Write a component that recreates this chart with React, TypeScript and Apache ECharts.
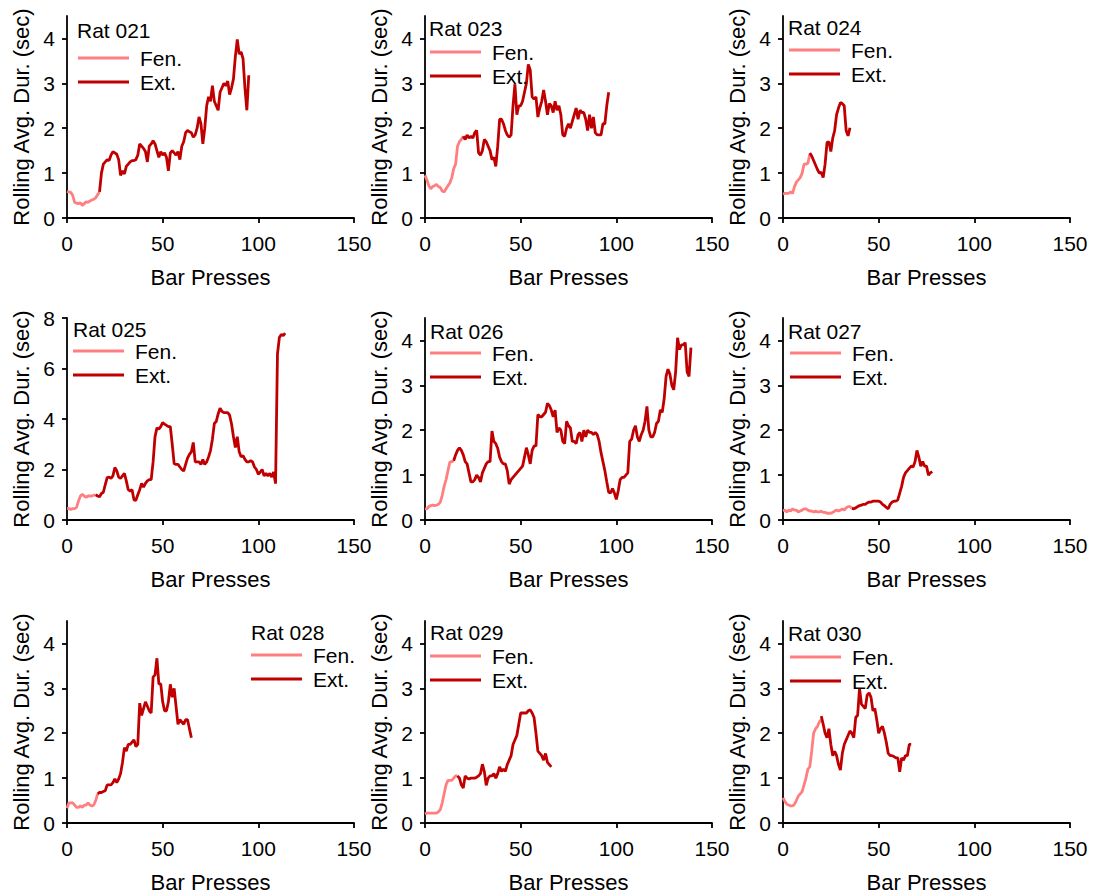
import React, { useEffect, useRef } from 'react';
import * as echarts from 'echarts';

const ratNames = ['Rat 021', 'Rat 023', 'Rat 024', 'Rat 025', 'Rat 026', 'Rat 027', 'Rat 028', 'Rat 029', 'Rat 030'];
const legendNames = ['Fen.', 'Ext.'];
const xTicks = [0, 50, 100, 150];
const xMax = 150;
const yTicksSmall = [0, 1, 2, 3, 4];
const yTicksLarge = [0, 2, 4, 6, 8];
const yMaxes = [4.5, 4.5, 4.5, 8, 4.5, 4.5, 4.5, 4.5, 4.5];

// Fen. values start at bar press 0; Ext. values start at extStarts[i]
const fen021 = [0.59, 0.58, 0.57, 0.5, 0.35, 0.33, 0.32, 0.34, 0.28, 0.32, 0.36, 0.35, 0.38, 0.4, 0.42, 0.45, 0.52, 0.58];
const ext021 = [0.58, 1.0, 1.2, 1.25, 1.3, 1.28, 1.4, 1.48, 1.45, 1.42, 1.3, 0.95, 1.05, 0.98, 1.15, 1.2, 1.25, 1.28, 1.28, 1.3, 1.4, 1.65, 1.6, 1.55, 1.48, 1.25, 1.6, 1.65, 1.72, 1.65, 1.5, 1.35, 1.48, 1.4, 1.45, 1.35, 1.05, 1.45, 1.5, 1.45, 1.4, 1.48, 1.3, 1.6, 1.7, 1.9, 1.95, 1.92, 1.9, 1.8, 1.85, 2.0, 2.25, 2.1, 1.65, 2.0, 2.5, 2.7, 2.6, 2.95, 2.6, 2.5, 2.4, 2.8, 2.9, 3.0, 2.95, 3.05, 2.75, 2.9, 3.1, 3.6, 3.98, 3.65, 3.7, 3.55, 2.9, 2.4, 3.18];

const fen023 = [0.95, 0.85, 0.72, 0.65, 0.7, 0.72, 0.75, 0.7, 0.68, 0.6, 0.58, 0.65, 0.72, 0.78, 0.9, 1.1, 1.2, 1.6, 1.7, 1.75, 1.82];
const ext023 = [1.82, 1.75, 1.85, 1.78, 1.82, 1.78, 1.9, 1.95, 1.45, 1.4, 1.5, 1.75, 1.7, 1.6, 1.5, 1.3, 1.35, 1.15, 1.6, 2.2, 2.2, 2.1, 1.95, 1.85, 1.8, 1.85, 2.5, 2.98, 2.3, 2.5, 2.5, 2.6, 2.8, 3.0, 3.42, 3.3, 2.7, 2.65, 2.7, 2.25, 2.45, 2.6, 2.85, 2.6, 2.3, 2.55, 2.5, 2.35, 2.6, 2.4, 2.5, 2.3, 1.85, 1.82, 2.0, 2.1, 2.0, 2.15, 2.3, 2.45, 2.2, 2.4, 2.35, 2.35, 2.2, 1.95, 2.3, 2.0, 2.25, 1.9, 1.85, 1.85, 1.85, 2.1, 2.1, 2.5, 2.8];

const fen024 = [0.53, 0.55, 0.55, 0.55, 0.58, 0.55, 0.7, 0.8, 0.85, 0.9, 1.0, 1.2, 1.2, 1.22, 1.42];
const ext024 = [1.45, 1.38, 1.28, 1.18, 1.08, 1.0, 1.02, 0.9, 1.2, 1.68, 1.7, 1.48, 1.78, 1.95, 2.3, 2.45, 2.57, 2.55, 2.5, 1.95, 1.83, 2.01];

const fen025 = [0.46, 0.45, 0.42, 0.45, 0.45, 0.5, 0.75, 0.95, 1.02, 0.95, 0.9, 0.95, 0.95, 0.95, 0.98, 1.0];
const ext025 = [1.0, 0.95, 0.92, 1.05, 1.1, 1.4, 1.68, 1.7, 1.65, 1.75, 2.08, 1.95, 1.7, 1.65, 1.75, 1.85, 1.55, 1.2, 1.15, 1.2, 0.8, 0.78, 1.0, 1.2, 1.45, 1.3, 1.45, 1.55, 1.6, 1.6, 2.3, 3.3, 3.65, 3.6, 3.7, 3.86, 3.8, 3.75, 3.7, 3.7, 3.0, 2.23, 2.2, 2.2, 2.1, 2.0, 1.94, 2.2, 2.45, 2.6, 2.7, 3.07, 2.3, 2.3, 2.3, 2.2, 2.4, 2.2, 2.3, 2.5, 2.75, 3.2, 3.82, 3.9, 4.2, 4.43, 4.3, 4.25, 4.25, 4.25, 4.15, 3.8, 3.3, 2.87, 3.3, 2.7, 2.5, 2.55, 2.4, 2.3, 2.3, 2.35, 2.3, 2.1, 2.0, 1.81, 1.9, 2.0, 1.75, 1.85, 1.75, 1.85, 1.7, 1.9, 1.44, 6.57, 7.23, 7.35, 7.3, 7.4];

const fen026 = [0.25, 0.25, 0.3, 0.32, 0.33, 0.32, 0.33, 0.35, 0.4, 0.55, 0.75, 0.9, 1.1, 1.29, 1.3, 1.32];
const ext026 = [1.32, 1.45, 1.55, 1.61, 1.55, 1.45, 1.3, 1.25, 1.05, 0.85, 0.85, 0.9, 1.0, 0.95, 0.85, 1.05, 1.15, 1.25, 1.3, 1.3, 1.98, 1.75, 1.7, 1.6, 1.4, 1.3, 1.25, 1.25, 1.1, 0.8, 0.9, 0.95, 1.0, 1.05, 1.1, 1.15, 1.2, 1.4, 1.61, 1.45, 1.25, 1.55, 1.65, 1.65, 2.35, 2.3, 2.3, 2.35, 2.4, 2.6, 2.55, 2.45, 2.3, 2.45, 1.95, 2.05, 2.0, 1.75, 1.7, 2.2, 2.1, 2.05, 1.75, 1.75, 1.7, 1.9, 1.95, 1.75, 2.0, 1.85, 2.0, 1.95, 1.95, 1.9, 1.95, 1.9, 1.75, 1.5, 1.3, 1.1, 0.85, 0.62, 0.6, 0.7, 0.6, 0.46, 0.65, 0.9, 0.95, 0.95, 1.0, 1.05, 1.75, 1.8, 2.0, 2.1, 1.85, 1.75, 1.9, 2.0, 2.2, 2.53, 2.0, 1.85, 1.85, 1.95, 2.15, 2.2, 2.45, 2.4, 2.7, 3.2, 3.36, 3.25, 3.0, 2.9, 3.3, 4.06, 3.8, 3.9, 3.9, 3.95, 3.3, 3.2, 3.84];

const fen027 = [0.21, 0.22, 0.18, 0.22, 0.2, 0.25, 0.22, 0.22, 0.18, 0.2, 0.22, 0.25, 0.25, 0.22, 0.2, 0.2, 0.18, 0.2, 0.18, 0.18, 0.2, 0.17, 0.17, 0.15, 0.15, 0.15, 0.17, 0.2, 0.22, 0.2, 0.22, 0.25, 0.22, 0.27, 0.3, 0.3, 0.26];
const ext027 = [0.26, 0.25, 0.27, 0.3, 0.32, 0.33, 0.35, 0.35, 0.38, 0.4, 0.4, 0.42, 0.42, 0.42, 0.42, 0.4, 0.35, 0.32, 0.28, 0.25, 0.35, 0.4, 0.42, 0.42, 0.45, 0.6, 0.75, 0.95, 1.05, 1.1, 1.15, 1.2, 1.18, 1.3, 1.55, 1.4, 1.2, 1.3, 1.2, 1.2, 1.0, 1.05, 1.08];

const fen028 = [0.33, 0.45, 0.45, 0.45, 0.4, 0.35, 0.35, 0.38, 0.35, 0.4, 0.4, 0.45, 0.4, 0.38, 0.4, 0.5, 0.65];
const ext028 = [0.65, 0.68, 0.68, 0.7, 0.72, 0.85, 0.85, 0.85, 0.9, 0.98, 0.9, 0.98, 1.1, 1.35, 1.68, 1.6, 1.75, 1.75, 1.8, 1.85, 1.7, 1.75, 2.67, 2.4, 2.55, 2.7, 2.6, 2.5, 2.45, 3.25, 3.3, 3.67, 3.1, 3.1, 2.7, 2.5, 2.5, 2.7, 3.09, 2.8, 3.0, 2.6, 2.2, 2.3, 2.25, 2.2, 2.3, 2.3, 2.1, 1.9];

const fen029 = [0.2, 0.22, 0.22, 0.22, 0.22, 0.22, 0.22, 0.25, 0.3, 0.45, 0.65, 0.85, 0.95, 0.95, 0.95, 1.0, 1.05, 1.05];
const ext029 = [1.05, 1.0, 0.85, 0.78, 1.05, 1.0, 0.98, 1.0, 1.0, 1.0, 1.02, 1.05, 1.1, 1.31, 1.15, 0.84, 1.0, 1.05, 1.05, 1.1, 1.0, 1.1, 1.25, 1.15, 1.2, 1.15, 1.3, 1.4, 1.5, 1.75, 1.85, 1.95, 2.2, 2.45, 2.45, 2.45, 2.45, 2.5, 2.52, 2.45, 2.35, 2.0, 1.6, 1.55, 1.5, 1.4, 1.55, 1.35, 1.3, 1.25];

const fen030 = [0.56, 0.48, 0.42, 0.4, 0.38, 0.38, 0.42, 0.5, 0.6, 0.65, 0.7, 0.85, 1.0, 1.2, 1.25, 1.6, 2.0, 2.1, 2.15, 2.25, 2.3];
const ext030 = [2.38, 2.2, 2.0, 1.9, 2.1, 1.75, 1.5, 1.6, 1.5, 1.3, 1.18, 1.55, 1.75, 1.85, 1.95, 2.05, 2.0, 1.9, 2.35, 2.4, 3.0, 2.65, 2.6, 2.55, 2.85, 2.9, 2.8, 2.5, 2.55, 2.3, 2.0, 2.1, 2.15, 2.0, 1.8, 1.55, 1.5, 1.5, 1.48, 1.45, 1.45, 1.14, 1.45, 1.4, 1.5, 1.5, 1.75, 1.75];

const fenData = [fen021, fen023, fen024, fen025, fen026, fen027, fen028, fen029, fen030];
const extData = [ext021, ext023, ext024, ext025, ext026, ext027, ext028, ext029, ext030];
const extStarts = [17, 20, 14, 15, 15, 36, 16, 17, 20];

const FEN_COLOR = '#FF7F80';
const EXT_COLOR = '#C00000';
const FONT = '"Liberation Sans", Arial, sans-serif';

// layout
const colLeft = [67, 425, 783];
const colWidth = 287;
const rowTop = [16, 318, 621];
const rowHeight = 202;
const titlePos = [[77, 19.5], [429, 17.5], [788, 16.5], [73, 318.5], [430, 320.5], [788, 320.5], [251, 621.5], [430, 621.5], [788, 622.5]];
const legendPos = [[78, 47.5], [430, 41.5], [789, 39.5], [73, 340.5], [430, 342.5], [790, 342.5], [251, 644.5], [430, 645.5], [790, 646.5]];

function buildOption() {
  const grid: any[] = [];
  const xAxis: any[] = [];
  const yAxis: any[] = [];
  const series: any[] = [];
  const title: any[] = [];
  const legend: any[] = [];
  const axisLineStyle = { color: '#000', width: 1.8 };
  for (let i = 0; i < 9; i++) {
    const r = Math.floor(i / 3);
    const c = i % 3;
    grid.push({ left: colLeft[c], top: rowTop[r], width: colWidth, height: rowHeight, containLabel: false });
    xAxis.push({
      type: 'value', gridIndex: i, min: 0, max: xMax, interval: 50,
      axisLine: { show: true, onZero: false, lineStyle: axisLineStyle },
      axisTick: { show: true, length: 5, lineStyle: axisLineStyle, customValues: xTicks },
      axisLabel: { fontSize: 21, color: '#000', fontFamily: FONT, margin: 15, customValues: xTicks },
      splitLine: { show: false },
      name: 'Bar Presses', nameLocation: 'middle', nameGap: 48,
      nameTextStyle: { fontSize: 22, color: '#000', fontFamily: FONT },
    });
    const yTicks = yMaxes[i] > 5 ? yTicksLarge : yTicksSmall;
    yAxis.push({
      type: 'value', gridIndex: i, min: 0, max: yMaxes[i],
      axisLine: { show: true, onZero: false, lineStyle: axisLineStyle },
      axisTick: { show: true, length: 5, lineStyle: axisLineStyle, customValues: yTicks },
      axisLabel: { fontSize: 21, color: '#000', fontFamily: FONT, margin: 12, customValues: yTicks },
      splitLine: { show: false },
      name: 'Rolling Avg. Dur. (sec)', nameLocation: 'middle', nameGap: 35,
      nameTextStyle: { fontSize: 22, color: '#000', fontFamily: FONT },
    });
    const fenPts = fenData[i].map((v, k) => [k, v]);
    const extPts = extData[i].map((v, k) => [extStarts[i] + k, v]);
    series.push({
      type: 'line', name: 'Fen.', xAxisIndex: i, yAxisIndex: i, data: fenPts,
      showSymbol: false, symbol: 'none', color: FEN_COLOR,
      lineStyle: { color: FEN_COLOR, width: 2.8 }, z: 2,
    });
    series.push({
      type: 'line', name: 'Ext.', xAxisIndex: i, yAxisIndex: i, data: extPts,
      showSymbol: false, symbol: 'none', color: EXT_COLOR,
      lineStyle: { color: EXT_COLOR, width: 2.8 }, z: 3,
    });
    title.push({
      text: ratNames[i], left: titlePos[i][0], top: titlePos[i][1], padding: 0,
      textStyle: { fontSize: 21, fontWeight: 'normal', color: '#000', fontFamily: FONT },
    });
    legend.push({
      left: legendPos[i][0], top: legendPos[i][1], orient: 'vertical', padding: 0,
      itemGap: 3, itemWidth: 51, itemHeight: 3, icon: 'rect', selectedMode: false,
      data: legendNames,
      textStyle: { fontSize: 21, color: '#000', fontFamily: FONT, padding: [0, 0, 0, 6] },
    });
  }
  return { animation: false, backgroundColor: '#fff', grid, xAxis, yAxis, series, title, legend };
}

export default function App() {
  const ref = useRef<HTMLDivElement>(null);
  useEffect(() => {
    if (!ref.current) return;
    const chart = echarts.init(ref.current, undefined, { renderer: 'svg' });
    chart.setOption(buildOption() as any);
    return () => chart.dispose();
  }, []);
  return <div ref={ref} style={{ position: 'absolute', left: 0, top: 0, width: 1098, height: 896, background: '#fff' }} />;
}
